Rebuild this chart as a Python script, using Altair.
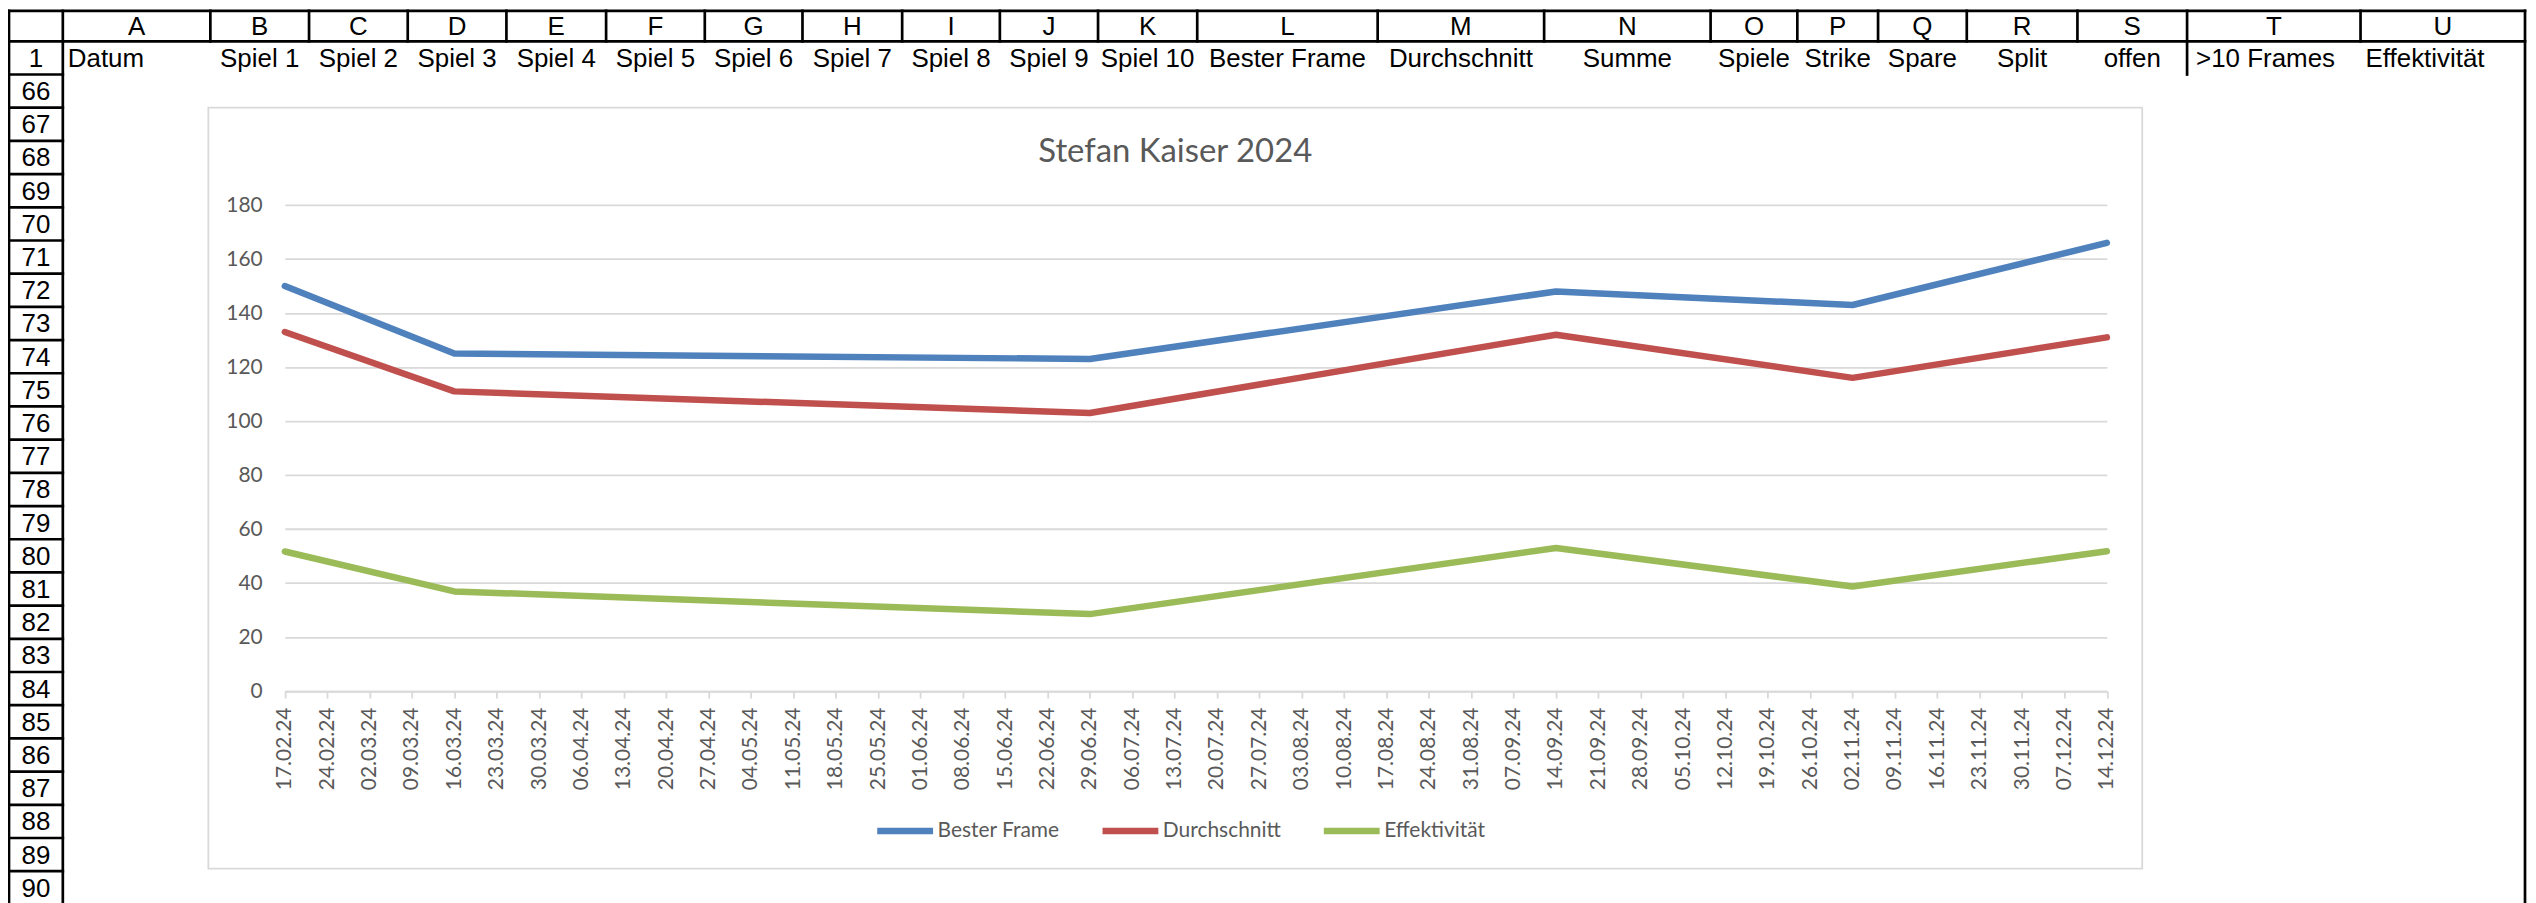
import altair as alt
import pandas as pd

# ---------------- chart data ----------------
week_labels = [
    "17.02.24", "24.02.24", "02.03.24", "09.03.24", "16.03.24", "23.03.24", "30.03.24",
    "06.04.24", "13.04.24", "20.04.24", "27.04.24", "04.05.24", "11.05.24", "18.05.24",
    "25.05.24", "01.06.24", "08.06.24", "15.06.24", "22.06.24", "29.06.24", "06.07.24",
    "13.07.24", "20.07.24", "27.07.24", "03.08.24", "10.08.24", "17.08.24", "24.08.24",
    "31.08.24", "07.09.24", "14.09.24", "21.09.24", "28.09.24", "05.10.24", "12.10.24",
    "19.10.24", "26.10.24", "02.11.24", "09.11.24", "16.11.24", "23.11.24", "30.11.24",
    "07.12.24", "14.12.24",
]
game_dates = ["17.02.24", "16.03.24", "29.06.24", "14.09.24", "02.11.24", "14.12.24"]
bester_frame = [150, 125, 123, 148, 143, 166]
durchschnitt = [133, 111, 103, 132, 116, 131]
effektivitaet = [51.7, 36.9, 28.5, 53.0, 38.7, 51.8]
series_names = ["Bester Frame", "Durchschnitt", "Effektivität"]
y_ticks = [0, 20, 40, 60, 80, 100, 120, 140, 160, 180]
chart_title = "Stefan Kaiser 2024"

# ---------------- spreadsheet texts ----------------
col_letters = ["A", "B", "C", "D", "E", "F", "G", "H", "I", "J", "K",
               "L", "M", "N", "O", "P", "Q", "R", "S", "T", "U"]
row1_texts = ["Datum", "Spiel 1", "Spiel 2", "Spiel 3", "Spiel 4", "Spiel 5",
              "Spiel 6", "Spiel 7", "Spiel 8", "Spiel 9", "Spiel 10",
              "Bester Frame", "Durchschnitt", "Summe", "Spiele", "Strike",
              "Spare", "Split", "offen", ">10 Frames", "Effektivität"]
row_numbers = ["1", "66", "67", "68", "69", "70", "71", "72", "73", "74", "75",
               "76", "77", "78", "79", "80", "81", "82", "83", "84", "85",
               "86", "87", "88", "89", "90"]
left_aligned = ["Datum", ">10 Frames", "Effektivität"]

# ---------------- styles / layout (page pixels) ----------------
COLORS = ["#4F81BD", "#C0504D", "#9BBB59"]
GRAY_TEXT = "#595959"
GRID = "#D9D9D9"
OFF = 8
W, H = 2528, 895
SHEET_FONT = "Liberation Sans"
SHEET_SIZE = 26
CHART_FONT = "Lato"

COL_EDGES = [9, 63, 211, 310, 409, 508, 608, 707, 805, 905, 1003, 1101.5, 1201,
             1382, 1549, 1716, 1803, 1884, 1973, 2084, 2194, 2368, 2533]
TOP = 9.4
HEAD_BOT = 40
ROW_H = 33.3
BOTTOM = 910

BOX = (209, 2149, 106.5, 870)
X0, X1 = 285.7, 2113.5      # first / last week tick
Y0, Y180 = 691.8, 204.3     # value 0 / value 180


def p(v):
    return v - OFF


# rules of the spreadsheet frame
rules = []
rules.append((COL_EDGES[0], COL_EDGES[-1], TOP, TOP))
rules.append((COL_EDGES[0], COL_EDGES[-1], HEAD_BOT, HEAD_BOT))
for e in COL_EDGES[2:-1]:
    rules.append((e, e, TOP, HEAD_BOT))
rules.append((2194, 2194, HEAD_BOT, HEAD_BOT + ROW_H))
for e in (COL_EDGES[0], COL_EDGES[1], COL_EDGES[-1]):
    rules.append((e, e, TOP, BOTTOM))
for k in range(len(row_numbers)):
    y = HEAD_BOT + ROW_H * (k + 1)
    rules.append((COL_EDGES[0], COL_EDGES[1], y, y))
rules_df = pd.DataFrame([{"x": p(a), "x2": p(b), "y": p(c), "y2": p(d)} for a, b, c, d in rules])

ident = dict(scale=None, axis=None)


def ix(f):
    return alt.X(f + ":Q", **ident)


def iy(f):
    return alt.Y(f + ":Q", **ident)


frame = alt.Chart(rules_df).mark_rule(color="black", strokeWidth=2.7, strokeCap="square").encode(
    x=ix("x"), x2="x2:Q", y=iy("y"), y2="y2:Q")

# column letters
letters_df = pd.DataFrame({
    "t": col_letters,
    "x": [p((COL_EDGES[i + 1] + COL_EDGES[i + 2]) / 2) for i in range(len(col_letters))],
    "y": p((TOP + HEAD_BOT) / 2 + 1),
})
# row numbers
rownum_df = pd.DataFrame({
    "t": row_numbers,
    "x": p((COL_EDGES[0] + COL_EDGES[1]) / 2),
    "y": [p(HEAD_BOT + ROW_H * k + ROW_H / 2 + 1) for k in range(len(row_numbers))],
})
# row 1 texts
r1 = []
for i, t in enumerate(row1_texts):
    a, b = COL_EDGES[i + 1], COL_EDGES[i + 2]
    if t in left_aligned:
        r1.append({"t": t, "x": p(a + (9 if t == ">10 Frames" else 5)), "y": p(HEAD_BOT + ROW_H / 2 + 1), "al": "left"})
    else:
        r1.append({"t": t, "x": p((a + b) / 2), "y": p(HEAD_BOT + ROW_H / 2 + 1), "al": "center"})
r1_df = pd.DataFrame(r1)

sheet_text = dict(font=SHEET_FONT, fontSize=SHEET_SIZE, color="black", baseline="middle")
letters = alt.Chart(letters_df).mark_text(align="center", **sheet_text).encode(x=ix("x"), y=iy("y"), text="t:N")
rownums = alt.Chart(rownum_df).mark_text(align="center", **sheet_text).encode(x=ix("x"), y=iy("y"), text="t:N")
r1_center = alt.Chart(r1_df[r1_df.al == "center"]).mark_text(align="center", **sheet_text).encode(
    x=ix("x"), y=iy("y"), text="t:N")
r1_left = alt.Chart(r1_df[r1_df.al == "left"]).mark_text(align="left", **sheet_text).encode(
    x=ix("x"), y=iy("y"), text="t:N")

# chart box
box_df = pd.DataFrame([{"x": p(BOX[0]), "x2": p(BOX[1]), "y": p(BOX[2]), "y2": p(BOX[3])}])
box = alt.Chart(box_df).mark_rect(fillOpacity=0, stroke=GRID, strokeWidth=1.8).encode(
    x=ix("x"), x2="x2:Q", y=iy("y"), y2="y2:Q")

# chart title
title_df = pd.DataFrame([{"t": chart_title, "x": p((BOX[0] + BOX[1]) / 2), "y": p(161)}])
title = alt.Chart(title_df).mark_text(font=CHART_FONT, fontSize=33, color=GRAY_TEXT,
                                      align="center", baseline="alphabetic").encode(
    x=ix("x"), y=iy("y"), text="t:N")

# line data (long form)
rows = []
for i, d in enumerate(game_dates):
    for name, vals in zip(series_names, [bester_frame, durchschnitt, effektivitaet]):
        rows.append({"Datum": d, "Serie": name, "Wert": vals[i], "idx": i})
line_df = pd.DataFrame(rows)

lines = alt.Chart(line_df).mark_line(strokeWidth=6.5, strokeCap="round", strokeJoin="round").encode(
    x=alt.X("Datum:O",
            scale=alt.Scale(type="point", domain=week_labels, range=[p(X0), p(X1)], padding=0),
            axis=alt.Axis(values=week_labels, title=None, labelAngle=270, labelAlign="right",
                          labelBaseline="middle", labelFont=CHART_FONT, labelFontSize=21,
                          labelColor=GRAY_TEXT, labelPadding=9, labelOverlap=False,
                          tickSize=7, tickColor=GRID, tickWidth=1.8,
                          domainColor=GRID, domainWidth=1.8, grid=False,
                          offset=-(H - p(Y0)))),
    y=alt.Y("Wert:Q",
            scale=alt.Scale(domain=[0, 180], range=[p(Y0), p(Y180)], nice=False, zero=True),
            axis=alt.Axis(values=y_ticks, title=None, labelFont=CHART_FONT, labelFontSize=21,
                          labelColor=GRAY_TEXT, labelPadding=22.7, ticks=False, tickSize=0,
                          domain=False, grid=True, gridColor=GRID, gridWidth=1.8,
                          offset=-p(X0))),
    color=alt.Color("Serie:N", scale=alt.Scale(domain=series_names, range=COLORS),
                    legend=alt.Legend(orient="none", legendX=868.5, legendY=792.5,
                                      direction="horizontal", columns=3, title=None,
                                      symbolType="stroke", symbolSize=3136,
                                      symbolStrokeWidth=6.5, labelFont=CHART_FONT,
                                      labelFontSize=21, labelColor=GRAY_TEXT,
                                      labelOffset=1, columnPadding=29, padding=0)),
    order=alt.Order("idx:Q"),
)

chart = alt.layer(frame, letters, rownums, r1_center, r1_left, box, title, lines).resolve_scale(
    x="independent", y="independent"
).properties(
    width=W, height=H, padding=0, autosize=alt.AutoSizeParams(type="none"), background="white"
).configure_view(strokeWidth=0)

chart.save("out.html", embed_options={"renderer": "svg", "actions": False})
